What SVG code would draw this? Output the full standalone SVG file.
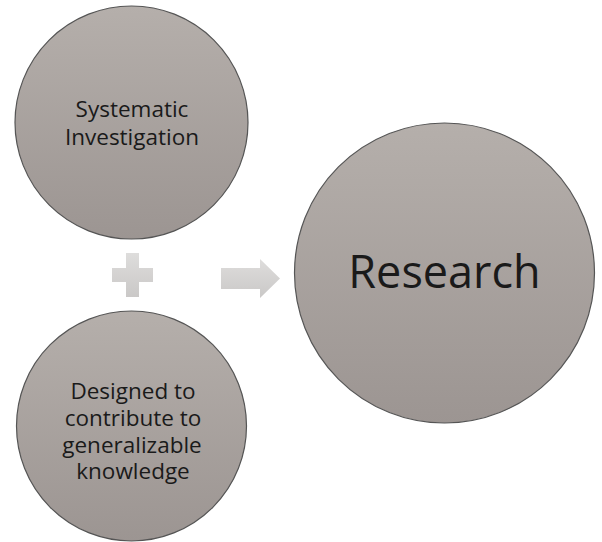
<svg xmlns="http://www.w3.org/2000/svg" width="602" height="542" viewBox="0 0 602 542">
  <defs>
    <linearGradient id="circleFill" x1="0" y1="0" x2="0" y2="1">
      <stop offset="0" stop-color="#b5afab"/>
      <stop offset="1" stop-color="#9c9592"/>
    </linearGradient>
    <linearGradient id="opFill" x1="0" y1="0" x2="0" y2="1">
      <stop offset="0" stop-color="#dedddc"/>
      <stop offset="1" stop-color="#cac8c7"/>
    </linearGradient>
  </defs>
  <style>
    .node { fill: url(#circleFill); stroke: #555555; stroke-width: 1.2; }
    .label { font-family: "Open Sans", "Noto Sans", "Liberation Sans", sans-serif; fill: #1a1a1a; text-anchor: middle; }
    .small { font-size: 22.5px; }
    .big { font-size: 45px; }
    .op { fill: url(#opFill); stroke: none; }
  </style>
  <rect width="602" height="542" fill="#ffffff"/>

  <g id="connectors">
    <path id="plus" class="op" d="M126,253 H139 V268 H153 V282 H139 V297 H126 V282 H112 V268 H126 Z"/>
    <path id="arrow" class="op" d="M221,268 H260 V259 L280,278.5 L260,298 V289 H221 Z"/>
  </g>

  <g id="node-systematic">
    <circle class="node" cx="131.5" cy="122.5" r="116.5"/>
    <text class="label small" x="132" y="117">Systematic</text>
    <text class="label small" x="132" y="145">Investigation</text>
  </g>

  <g id="node-designed">
    <circle class="node" cx="131.5" cy="426" r="115"/>
    <text class="label small" x="133" y="399">Designed to</text>
    <text class="label small" x="133" y="426">contribute to</text>
    <text class="label small" x="132" y="452.5">generalizable</text>
    <text class="label small" x="133" y="479">knowledge</text>
  </g>

  <g id="node-research">
    <circle class="node" cx="444.5" cy="273" r="150"/>
    <text class="label big" x="444.5" y="288">Research</text>
  </g>
</svg>
